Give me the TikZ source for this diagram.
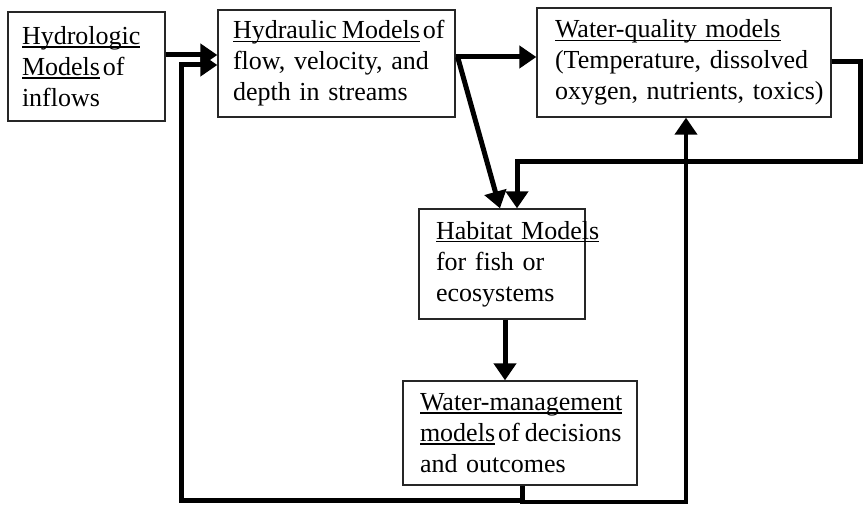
\documentclass[tikz,border=0pt]{standalone}
\usepackage{fontspec}
\setmainfont{Liberation Serif}
\usetikzlibrary{arrows.meta}
\newcommand\myul[1]{\leavevmode\setbox0\hbox{#1}\rlap{\rule[-3.2pt]{\wd0}{1.3pt}}\box0\relax}
\newcommand\tsp{\hspace{3pt}}
\newcommand\boxfont{\fontsize{26}{31}\selectfont}
\begin{document}
\begin{tikzpicture}[x=1pt,y=-1pt,
  box/.style={draw=black!85, line width=1.3pt, rectangle, inner sep=0pt, align=left,
    font=\boxfont},
  flow/.style={line width=5pt, line join=miter, -{Triangle[length=17pt,width=22pt]}}]
\useasboundingbox (0,0) rectangle (863,505);
% boxes
\node[box, minimum width=157pt, minimum height=109pt, text width=129pt] (h1) at (86.5,66.5)
  {\mbox{\myul{Hydrologic}}\\\mbox{\myul{Models}\tsp of}\\\mbox{inflows}};
\node[box, minimum width=237pt, minimum height=107pt, text width=207pt] (h2) at (336.5,63.5)
  {\mbox{\myul{Hydraulic\hspace{5pt}Models}\tsp of}\\\mbox{flow, velocity, and}\\\mbox{depth in streams}};
\node[box, minimum width=294pt, minimum height=109pt, text width=258pt] (wq) at (684,62.5)
  {\mbox{\myul{Water-quality models}}\\\mbox{(Temperature, dissolved}\\\mbox{oxygen, nutrients, toxics)}};
\node[box, minimum width=166pt, minimum height=110pt, text width=132pt] (hab) at (502,264)
  {\mbox{\myul{Habitat Models}}\\\mbox{for fish or}\\\mbox{ecosystems}};
\node[box, minimum width=234pt, minimum height=104pt, text width=200pt] (wm) at (520,433)
  {\mbox{\myul{Water-management}}\\\mbox{\myul{models}\tsp of\hspace{5pt}decisions}\\\mbox{and outcomes}};
% helper coordinates
\coordinate (r55) at (0,55);
\coordinate (r57) at (0,57);
\coordinate (r62) at (0,62);
\coordinate (r65) at (0,65);
\coordinate (r162) at (0,162);
\coordinate (r500) at (0,500);
\coordinate (r502) at (0,502);
\coordinate (c181) at (181.5,0);
\coordinate (c500) at (500,0);
\coordinate (c505) at (505,0);
\coordinate (c517) at (517,0);
\coordinate (c522) at (522,0);
\coordinate (c686) at (686,0);
\coordinate (c860) at (860,0);
% connectors
\draw[flow] (h1.east |- r55) -- (h2.west |- r55);
\draw[flow] (h2.east |- r57) -- (wq.west |- r57);
\draw[flow] ([xshift=2pt]h2.east |- r57) -- (c500 |- hab.north);
\draw[flow] (wq.east |- r62) -| (c860 |- r162) -| (c517 |- hab.north);
\draw[flow] (c505 |- hab.south) -- (c505 |- wm.north);
\draw[flow] (c522 |- wm.south) |- (c181 |- r500) |- (h2.west |- r65);
\draw[flow, line width=4pt] (c522 |- wm.south) |- (c686 |- r502) -- (c686 |- wq.south);
\end{tikzpicture}
\end{document}
